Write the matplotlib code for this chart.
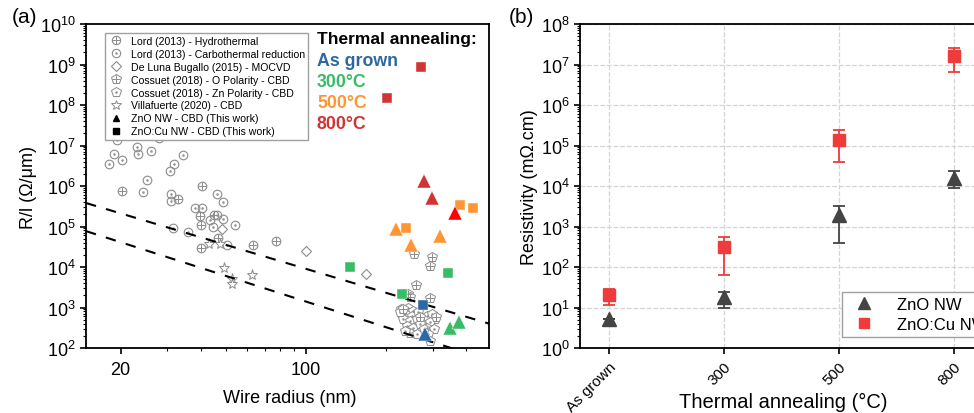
import matplotlib
matplotlib.use("Agg")
import matplotlib.pyplot as plt
from matplotlib.lines import Line2D
from matplotlib.ticker import LogLocator, NullFormatter
import numpy as np

plt.rcParams['font.family'] = ['Liberation Sans', 'DejaVu Sans']

# ---- panel (a): R/l vs wire radius ----
lord_carbo_r = [18.1, 18.8, 20.2, 19.3, 23.0, 23.3, 26.1, 28.0, 25.2, 24.2, 30.7, 31.8, 34.5,
                30.9, 30.9, 31.6, 35.8, 38.1, 40.5, 46.3, 48.6, 43.4, 44.7, 46.0, 48.5, 54.0, 50.2]
lord_carbo_y = [3.5e6, 6.1e6, 4.3e6, 1.4e7, 9.2e6, 6.1e6, 7.2e6, 1.5e7, 1.4e6, 7.2e5, 2.4e6, 3.4e6, 5.7e6,
                6.3e5, 4.3e5, 9.1e4, 7.4e4, 2.9e5, 2.9e5, 6.5e5, 4.1e5, 1.45e5, 9.5e4, 1.9e5, 1.5e5, 1.1e5, 3.4e4]
lord_hydro_r = [20.3, 40.6, 33.0, 39.8, 45.1, 40.1, 46.7, 40.1, 63.3, 77.1]
lord_hydro_y = [7.4e5, 1.0e6, 4.9e5, 1.8e5, 1.9e5, 1.1e5, 5.1e4, 3.0e4, 3.5e4, 4.5e4]
bugallo_r = [48.0, 100, 168]
bugallo_y = [8.7e4, 2.5e4, 6.6e3]
villa_r = [43.1, 47.3, 49.2, 52.7, 52.7, 62.4]
villa_y = [3.8e4, 3.7e4, 9.6e3, 5.2e3, 3.9e3, 6.3e3]
cossuet_o_r = [256, 299, 294, 260, 294, 243, 247, 232, 310, 268]
cossuet_o_y = [2.1e4, 1.8e4, 1.07e4, 3.6e3, 1.7e3, 2.2e3, 1.8e3, 9.2e2, 5.8e2, 5.8e2]
cossuet_zn_r = [229, 243, 254, 236, 251, 265, 232, 247, 262, 240, 254, 270, 247, 262,
                286, 298, 307, 294, 286, 303, 289, 278, 294, 236, 226]
cossuet_zn_y = [9.2e2, 1.0e3, 8.3e2, 6.9e2, 6.3e2, 7.6e2, 5.2e2, 4.7e2, 5.2e2, 3.5e2, 3.2e2, 3.9e2, 2.4e2, 2.2e2,
                6.3e2, 6.9e2, 5.2e2, 4.3e2, 3.2e2, 2.9e2, 2.2e2, 2.9e2, 1.5e2, 2.7e2, 7.6e2]

# this work: per annealing condition
conditions = ['As grown', '300', '500', '800']
tri_r = {'As grown': [281], '300': [349, 378], '500': [219, 249, 321], '800': [278, 298, 365]}
tri_y = {'As grown': [2.2e2], '300': [3.2e2, 4.5e2], '500': [8.7e4, 3.4e4, 5.7e4], '800': [1.35e6, 5.0e5, 2.2e5]}
sq_r = {'As grown': [275], '300': [146, 230, 344], '500': [238, 381, 427], '800': [271, 202]}
sq_y = {'As grown': [1.17e3], '300': [1.02e4, 2.15e3, 7.1e3], '500': [9.2e4, 3.4e5, 2.8e5], '800': [8.7e8, 1.5e8]}
tri_colors = {'As grown': ['#2d67a6'], '300': ['#38bd67'] * 2, '500': ['#ff9533'] * 3,
              '800': ['#d13434', '#d13434', '#ff0000']}
cond_colors = {'As grown': '#2d67a6', '300': '#38bd67', '500': '#ff9533', '800': '#d13434'}
cond_text = ['As grown', '300°C', '500°C', '800°C']

# dashed 1/r^2 guide lines (end points)
guide_r = [14.8, 490]
guide_upper = [3.8e5, 400]
guide_lower = [7.7e4, 50]

# ---- panel (b): resistivity vs annealing ----
anneal_labels = ['As grown', '300', '500', '800']
zno_rho = [5.2, 17.8, 1.9e3, 1.6e4]
zno_lo = [5.2, 10, 390, 8.9e3]
zno_hi = [5.2, 23.6, 3.2e3, 2.3e4]
cu_rho = [20.8, 306, 1.4e5, 1.6e7]
cu_lo = [11.5, 65, 4.0e4, 6.5e6]
cu_hi = [28.6, 560, 2.4e5, 2.6e7]

gray = '#8c8c8c'

fig = plt.figure(figsize=(9.74, 4.14), dpi=100)
ax = fig.add_axes([0.0883, 0.157, 0.4138, 0.7826])
ax2 = fig.add_axes([0.5955, 0.157, 0.4138, 0.7826])

ms = 6.2
ax.plot(lord_carbo_r, lord_carbo_y, 'o', ms=ms, mfc='none', mec=gray, mew=0.8)
ax.plot(lord_carbo_r, lord_carbo_y, '.', ms=1.5, color=gray)
ax.plot(lord_hydro_r, lord_hydro_y, 'o', ms=ms, mfc='none', mec=gray, mew=0.8)
ax.plot(lord_hydro_r, lord_hydro_y, '+', ms=ms, color=gray, mew=0.7)
ax.plot(bugallo_r, bugallo_y, 'D', ms=5.5, mfc='white', mec=gray, mew=0.8)
ax.plot(villa_r, villa_y, '*', ms=8, mfc='white', mec=gray, mew=0.7)
ax.plot(cossuet_zn_r, cossuet_zn_y, 'p', ms=7, mfc='white', mec=gray, mew=0.7)
ax.plot(cossuet_zn_r, cossuet_zn_y, '.', ms=1.5, color=gray)
ax.plot(cossuet_o_r, cossuet_o_y, 'p', ms=7, mfc='white', mec=gray, mew=0.7)
ax.plot(cossuet_o_r, cossuet_o_y, '+', ms=5.5, color=gray, mew=0.7)

ax.plot(guide_r, guide_upper, color='black', lw=1.5, dashes=(5, 5))
ax.plot(guide_r, guide_lower, color='black', lw=1.5, dashes=(5, 5))

for k in conditions:
    ax.plot(sq_r[k], sq_y[k], 's', ms=7, color=cond_colors[k], mec='white', mew=0.3, zorder=5)
    for r, y, c in zip(tri_r[k], tri_y[k], tri_colors[k]):
        ax.plot([r], [y], '^', ms=9.5, color=c, mec='white', mew=0.3, zorder=5)

ax.set_xscale('log')
ax.set_yscale('log')
ax.set_xlim(14.8, 490)
ax.set_ylim(1e2, 1e10)
ax.set_xticks([20, 100])
ax.set_xticklabels(['20', '100'])
ax.xaxis.set_minor_locator(LogLocator(base=10, subs=np.arange(2, 10)))
ax.xaxis.set_minor_formatter(NullFormatter())
ax.yaxis.set_major_locator(LogLocator(base=10, numticks=20))
ax.yaxis.set_minor_locator(LogLocator(base=10, subs=np.arange(2, 10), numticks=20))
ax.yaxis.set_minor_formatter(NullFormatter())
ax.tick_params(which='major', labelsize=13, length=4, width=1.2)
ax.tick_params(which='minor', length=2.5, width=0.8)
ax.tick_params(axis='x', which='major', pad=5)
for s in ax.spines.values():
    s.set_linewidth(1.3)
ax.set_xlabel('Wire radius (nm)', fontsize=13)
ax.xaxis.set_label_coords(0.506, -0.125)
ax.set_ylabel('R/l (Ω/μm)', fontsize=13, labelpad=2)

handles = [
    (Line2D([], [], ls='none', marker='o', ms=6, mfc='none', mec=gray, mew=0.8),
     Line2D([], [], ls='none', marker='+', ms=6, color=gray, mew=0.7)),
    (Line2D([], [], ls='none', marker='o', ms=6, mfc='none', mec=gray, mew=0.8),
     Line2D([], [], ls='none', marker='.', ms=1.5, color=gray)),
    Line2D([], [], ls='none', marker='D', ms=5.5, mfc='white', mec=gray, mew=0.8),
    (Line2D([], [], ls='none', marker='p', ms=7, mfc='white', mec=gray, mew=0.7),
     Line2D([], [], ls='none', marker='+', ms=5.5, color=gray, mew=0.7)),
    (Line2D([], [], ls='none', marker='p', ms=7, mfc='white', mec=gray, mew=0.7),
     Line2D([], [], ls='none', marker='.', ms=1.5, color=gray)),
    Line2D([], [], ls='none', marker='*', ms=7.5, mfc='white', mec=gray, mew=0.7),
    Line2D([], [], ls='none', marker='^', ms=5, color='black'),
    Line2D([], [], ls='none', marker='s', ms=5, color='black'),
]
labels = ['Lord (2013) - Hydrothermal', 'Lord (2013) - Carbothermal reduction',
          'De Luna Bugallo (2015) - MOCVD', 'Cossuet (2018) - O Polarity - CBD',
          'Cossuet (2018) - Zn Polarity - CBD', 'Villafuerte (2020) - CBD',
          'ZnO NW - CBD (This work)', 'ZnO:Cu NW - CBD (This work)']
leg = ax.legend(handles, labels, loc='upper left', bbox_to_anchor=(0.035, 0.99), fontsize=7.6,
                frameon=True, fancybox=False, edgecolor='#a0a0a0', framealpha=1,
                handletextpad=0.6, labelspacing=0.28, borderpad=0.3, handlelength=1.5)
leg.get_frame().set_linewidth(1.0)

ax.text(0.573, 0.955, 'Thermal annealing:', transform=ax.transAxes, fontsize=12.5,
        fontweight='bold', color='black', va='center')
for i, k in enumerate(conditions):
    ax.text(0.573, 0.887 - 0.065 * i, cond_text[i], transform=ax.transAxes, fontsize=12.8,
            fontweight='bold', color=cond_colors[k], va='center')

fig.text(0.012, 0.945, '(a)', fontsize=15)
fig.text(0.522, 0.945, '(b)', fontsize=15)

# ---- panel (b) ----
xpos = np.arange(len(anneal_labels))
zno_err = [np.array(zno_rho) - np.array(zno_lo), np.array(zno_hi) - np.array(zno_rho)]
cu_err = [np.array(cu_rho) - np.array(cu_lo), np.array(cu_hi) - np.array(cu_rho)]
ax2.errorbar(xpos, zno_rho, yerr=zno_err, fmt='^', ms=10, color='#444444', ecolor='#444444',
             elinewidth=1.3, capsize=4, capthick=1.3, zorder=4)
ax2.errorbar(xpos, cu_rho, yerr=cu_err, fmt='s', ms=8, color='#ee3b3b', ecolor='#ee3b3b',
             elinewidth=1.3, capsize=4, capthick=1.3, zorder=4)
ax2.set_yscale('log')
ax2.set_ylim(1, 1e8)
ax2.set_xlim(-0.252, 3.252)
ax2.set_xticks(xpos)
ax2.set_xticklabels(anneal_labels, rotation=45, ha='right', va='top', rotation_mode='anchor')
ax2.yaxis.set_major_locator(LogLocator(base=10, numticks=20))
ax2.yaxis.set_minor_locator(LogLocator(base=10, subs=np.arange(2, 10), numticks=20))
ax2.yaxis.set_minor_formatter(NullFormatter())
ax2.tick_params(which='major', labelsize=13, length=4, width=1.2)
ax2.tick_params(which='minor', length=2.5, width=0.8)
ax2.tick_params(axis='x', which='major', labelsize=11, pad=4)
ax2.grid(True, which='major', ls='--', color='#d4d4d4', lw=0.9)
ax2.set_axisbelow(True)
for s in ax2.spines.values():
    s.set_linewidth(1.3)
ax2.set_xlabel('Thermal annealing (°C)', fontsize=14.5)
ax2.xaxis.set_label_coords(0.505, -0.135)
ax2.set_ylabel('Resistivity (mΩ.cm)', fontsize=13, labelpad=2)
leg_handles = [Line2D([], [], ls='none', marker='^', ms=8, color='#444444'),
               Line2D([], [], ls='none', marker='s', ms=7, color='#ee3b3b')]
leg2 = ax2.legend(leg_handles, ['ZnO NW', 'ZnO:Cu NW'], loc='lower left',
                  bbox_to_anchor=(0.65, 0.035), fontsize=12, frameon=True,
                  fancybox=False, edgecolor='#a0a0a0', framealpha=1, handletextpad=1.0,
                  borderpad=0.3, labelspacing=0.3, borderaxespad=0)

fig.savefig('out.png', dpi=100)
